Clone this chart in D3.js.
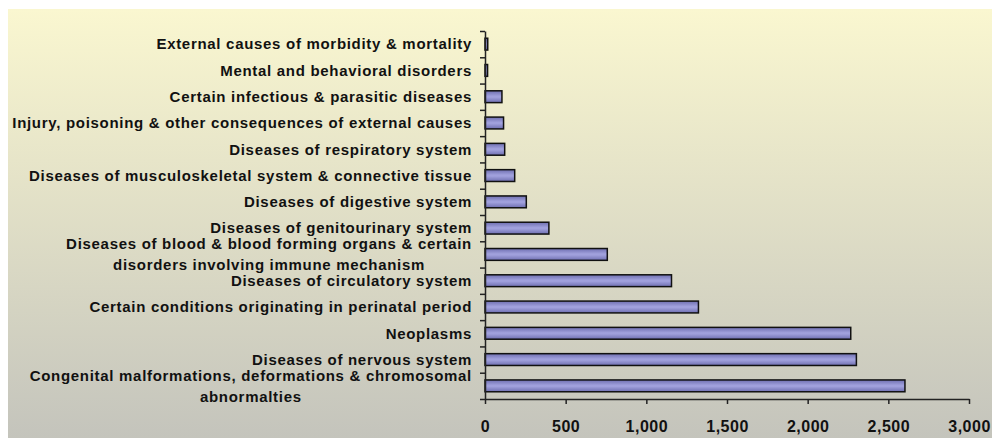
<!DOCTYPE html>
<html>
<head>
<meta charset="utf-8">
<script src="https://cdn.jsdelivr.net/npm/d3@7"></script>
<style>
  body { margin: 0; background: #fff; }
  svg { display: block; }
  .axis path, .axis line { stroke: #222; stroke-width: 1.5; }
  text { font-family: "Liberation Sans", Arial, sans-serif; font-weight: bold; fill: #111; }
</style>
</head>
<body>
<div id="chart"></div>
<script>
// categories listed from top to bottom, each line of a label as a separate string
const categories = [
  ["External causes of morbidity & mortality"],
  ["Mental and behavioral disorders"],
  ["Certain infectious & parasitic diseases"],
  ["Injury, poisoning & other consequences of external causes"],
  ["Diseases of respiratory system"],
  ["Diseases of musculoskeletal system & connective tissue"],
  ["Diseases of digestive system"],
  ["Diseases of genitourinary system"],
  ["Diseases of blood & blood forming organs & certain", "disorders involving immune mechanism"],
  ["Diseases of circulatory system"],
  ["Certain conditions originating in perinatal period"],
  ["Neoplasms"],
  ["Diseases of nervous system"],
  ["Congenital malformations, deformations & chromosomal", "abnormalties"]
];
const values = [17, 16, 105, 115, 122, 184, 256, 396, 758, 1156, 1323, 2267, 2302, 2603];
const xTicks = [0, 500, 1000, 1500, 2000, 2500, 3000];

const W = 992, H = 438;
const margin = {top: 31, right: 23, bottom: 39, left: 485};
const width = W - margin.left - margin.right,
    height = H - margin.top - margin.bottom;

const svg = d3.select("#chart")
  .append("svg")
  .attr("width", W)
  .attr("height", H);

var defs = svg.append("defs");
var bg = defs.append("linearGradient")
  .attr("id", "bg-grad")
  .attr("x1", "0%").attr("y1", "0%")
  .attr("x2", "0%").attr("y2", "100%");
bg.append("stop").attr("offset", "0%").attr("stop-color", "#FAF7D0");
bg.append("stop").attr("offset", "100%").attr("stop-color", "#C4C4BC");

var barGrad = defs.append("linearGradient")
  .attr("id", "bar-grad")
  .attr("x1", "0%").attr("y1", "0%")
  .attr("x2", "0%").attr("y2", "100%");
barGrad.append("stop").attr("offset", "0%").attr("stop-color", "#6E6EB0");
barGrad.append("stop").attr("offset", "45%").attr("stop-color", "#A0A0DC");
barGrad.append("stop").attr("offset", "55%").attr("stop-color", "#A0A0DC");
barGrad.append("stop").attr("offset", "100%").attr("stop-color", "#6E6EB0");

svg.append("rect")
  .attr("x", 8).attr("y", 9)
  .attr("width", W - 8).attr("height", H - 9)
  .style("fill", "url(#bg-grad)");

const g = svg.append("g")
  .attr("transform", `translate(${margin.left}, ${margin.top})`);

const x = d3.scaleLinear()
  .domain([0, 3000])
  .range([0, width]);

const y = d3.scaleBand()
  .domain(d3.range(categories.length))
  .range([0, height])
  .paddingInner(0.55)
  .paddingOuter(0.275);

// bars
g.selectAll(".bar")
  .data(values)
  .enter()
  .append("rect")
    .attr("class", "bar")
    .attr("x", x(0))
    .attr("y", (d, i) => y(i))
    .attr("width", d => x(d) - x(0))
    .attr("height", y.bandwidth())
    .style("fill", "url(#bar-grad)")
    .style("stroke", "#111")
    .style("stroke-width", 1.5);

// bottom axis
const xAxis = g.append("g")
  .attr("class", "axis")
  .attr("transform", `translate(0, ${height})`)
  .call(d3.axisBottom(x)
    .tickValues(xTicks)
    .tickSize(5)
    .tickSizeOuter(0)
    .tickPadding(17)
    .tickFormat(d3.format(",")));
xAxis.selectAll("text")
  .style("font-size", "16px")
  .style("letter-spacing", "0.5px");

// left axis: ticks on band boundaries
const yLine = d3.scaleLinear().domain([0, categories.length]).range([0, height]);
g.append("g")
  .attr("class", "axis")
  .call(d3.axisLeft(yLine)
    .tickValues(d3.range(categories.length + 1))
    .tickSize(5)
    .tickSizeOuter(0)
    .tickFormat(""));

// category labels
const labelX = -13;
const lineGap = 21;
const labels = g.selectAll(".cat")
  .data(categories)
  .enter()
  .append("text")
    .attr("class", "cat")
    .attr("text-anchor", "middle")
    .style("font-size", "15px")
    .style("letter-spacing", "0.7px");

labels.each(function(lines, i) {
  const t = d3.select(this);
  const cy = y(i) + y.bandwidth() / 2;
  lines.forEach((ln, k) => {
    t.append("tspan")
      .attr("y", cy + (k - (lines.length - 1) / 2) * lineGap)
      .attr("dy", "0.35em")
      .text(ln);
  });
});

// right-align the label blocks while centering lines within a block
labels.each(function() {
  const t = d3.select(this);
  const spans = t.selectAll("tspan").nodes();
  const widest = d3.max(spans, s => s.getComputedTextLength());
  spans.forEach(s => d3.select(s).attr("x", labelX - widest / 2));
});
</script>
</body>
</html>
